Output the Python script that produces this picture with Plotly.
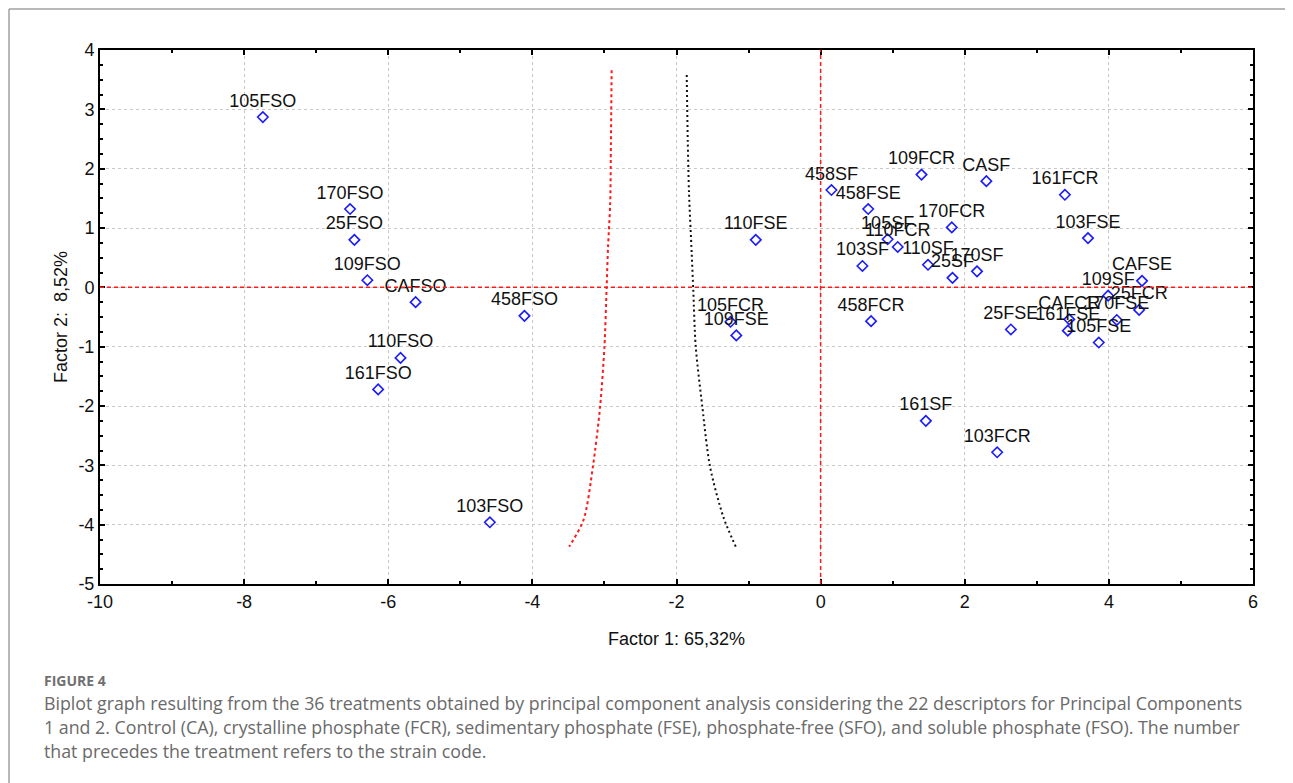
import plotly.graph_objects as go

# ---- data ----
labels = ["105FSO", "170FSO", "25FSO", "109FSO", "CAFSO", "458FSO", "110FSO", "161FSO", "103FSO",
          "105FCR", "109FSE", "110FSE",
          "458SF", "458FSE", "109FCR", "CASF", "170FCR", "105SF", "110FCR", "103SF", "110SF", "25SF", "170SF",
          "161FCR", "103FSE", "458FCR", "161SF", "103FCR",
          "CAFSE", "109SF", "25FCR", "170FSE", "25FSE", "CAFCR", "161FSE", "105FSE"]
factor1 = [-7.74, -6.53, -6.47, -6.29, -5.62, -4.11, -5.83, -6.14, -4.59,
           -1.25, -1.17, -0.90,
           0.15, 0.66, 1.40, 2.30, 1.82, 0.93, 1.07, 0.58, 1.49, 1.83, 2.17,
           3.39, 3.71, 0.70, 1.46, 2.45,
           4.46, 3.99, 4.42, 4.11, 2.64, 3.45, 3.43, 3.86]
factor2 = [2.87, 1.32, 0.80, 0.12, -0.25, -0.48, -1.19, -1.72, -3.96,
           -0.58, -0.81, 0.80,
           1.64, 1.32, 1.90, 1.79, 1.01, 0.81, 0.68, 0.36, 0.38, 0.16, 0.27,
           1.56, 0.83, -0.57, -2.25, -2.78,
           0.11, -0.14, -0.38, -0.55, -0.71, -0.54, -0.73, -0.93]

red_curve_x = [-2.90, -2.91, -2.92, -2.95, -2.97, -3.00, -3.06, -3.16, -3.29, -3.49]
red_curve_y = [3.66, 2.43, 1.42, 0.68, -0.02, -1.00, -2.01, -3.02, -3.92, -4.37]
black_curve_x = [-1.858, -1.844, -1.826, -1.789, -1.767, -1.733, -1.642, -1.535, -1.350, -1.178]
black_curve_y = [3.58, 2.48, 1.58, 0.57, -0.05, -1.00, -2.01, -3.02, -3.87, -4.37]

x_ticks = [-10, -8, -6, -4, -2, 0, 2, 4, 6]
x_ticktext = ["-10", "-8", "-6", "-4", "-2", "0", "2", "4", "6"]
y_ticks = [-5, -4, -3, -2, -1, 0, 1, 2, 3, 4]
y_ticktext = ["-5", "-4", "-3", "-2", "-1", "0", "1", "2", "3", "4"]

x_title = "Factor 1: 65,32%"
y_title = "Factor 2:  8,52%"
fig_label = "FIGURE 4"
caption_lines = [
    "Biplot graph resulting from the 36 treatments obtained by principal component analysis considering the 22 descriptors for Principal Components",
    "1 and 2. Control (CA), crystalline phosphate (FCR), sedimentary phosphate (FSE), phosphate-free (SFO), and soluble phosphate (FSO). The number",
    "that precedes the treatment refers to the strain code.",
]

# the page adds an 8px body margin; work in page pixels and subtract it
OFF = 8
W, H = 1293 - OFF, 783 - OFF
L, T = 100 - OFF, 50 - OFF
R = W - (1253 - OFF)
B = H - (584 - OFF)
pw, ph = W - L - R, H - T - B

def px_x(p):
    return (p - OFF - L) / pw

def px_y(p):
    return (H - B - (p - OFF)) / ph

fig = go.Figure()

fig.add_trace(go.Scatter(x=red_curve_x, y=red_curve_y, mode="lines",
                         line=dict(color="#ff1a1a", width=2, dash="3px,3px", shape="spline", smoothing=0.8),
                         hoverinfo="skip", showlegend=False))
fig.add_trace(go.Scatter(x=black_curve_x, y=black_curve_y, mode="lines",
                         line=dict(color="#111111", width=2, dash="2px,3px", shape="spline", smoothing=0.8),
                         hoverinfo="skip", showlegend=False))

fig.add_hline(y=0, line=dict(color="#ff1a1a", width=1.5, dash="4px,3px"))
fig.add_vline(x=0, line=dict(color="#ff1a1a", width=1.5, dash="4px,3px"))

fig.add_trace(go.Scatter(
    x=factor1, y=factor2, mode="markers+text", text=labels,
    textposition="top center",
    textfont=dict(family="Liberation Sans, Arial", size=18, color="#111111"),
    marker=dict(symbol="diamond-open", size=8, color="#1a1aff", line=dict(width=1.6, color="#1a1aff")),
    showlegend=False, cliponaxis=False))

axis_common = dict(
    showline=True, linecolor="black", linewidth=2, mirror="ticks",
    ticks="inside", ticklen=5, tickwidth=1.5, tickcolor="black",
    showgrid=True, gridcolor="#c8c8c8", griddash="dot", gridwidth=1,
    zeroline=False,
    tickfont=dict(family="Liberation Sans, Arial", size=18, color="#111111"),
)

fig.update_xaxes(range=[-10, 6], tickvals=x_ticks, ticktext=x_ticktext, **axis_common,
                 minor=dict(dtick=1, ticks="inside", ticklen=3, tickcolor="black", showgrid=False),
                 title=dict(text=x_title, font=dict(family="Liberation Sans, Arial", size=18, color="#111111"), standoff=22))
fig.update_yaxes(range=[-5, 4], tickvals=y_ticks, ticktext=y_ticktext, **axis_common,
                 minor=dict(dtick=0.25, ticks="inside", ticklen=3, tickcolor="black", showgrid=False),
                 title=dict(text=y_title, font=dict(family="Liberation Sans, Arial", size=18, color="#111111"), standoff=6))

# outer frame (top and left edges)
frame_color = "#a0a0a0"
fig.add_shape(type="line", xref="paper", yref="paper",
              x0=px_x(9), x1=px_x(1293), y0=px_y(9), y1=px_y(9),
              line=dict(color=frame_color, width=1.5))
fig.add_shape(type="line", xref="paper", yref="paper",
              x0=px_x(9), x1=px_x(9), y0=px_y(9), y1=px_y(783),
              line=dict(color=frame_color, width=1.5))

fig.add_annotation(text=fig_label, xref="paper", yref="paper", x=px_x(42), y=px_y(680),
                   xanchor="left", yanchor="middle", showarrow=False,
                   font=dict(family="Open Sans", size=14, color="#707070", weight="bold"))
for i, line in enumerate(caption_lines):
    fig.add_annotation(text=line, xref="paper", yref="paper", x=px_x(42), y=px_y(703 + 24 * i),
                       xanchor="left", yanchor="middle", showarrow=False,
                       font=dict(family="Open Sans", size=17.8, color="#6a6a6a"))

fig.update_layout(width=W, height=H, margin=dict(l=L, r=R, t=T, b=B),
                  plot_bgcolor="white", paper_bgcolor="white", showlegend=False)

fig.write_html("out.html")
